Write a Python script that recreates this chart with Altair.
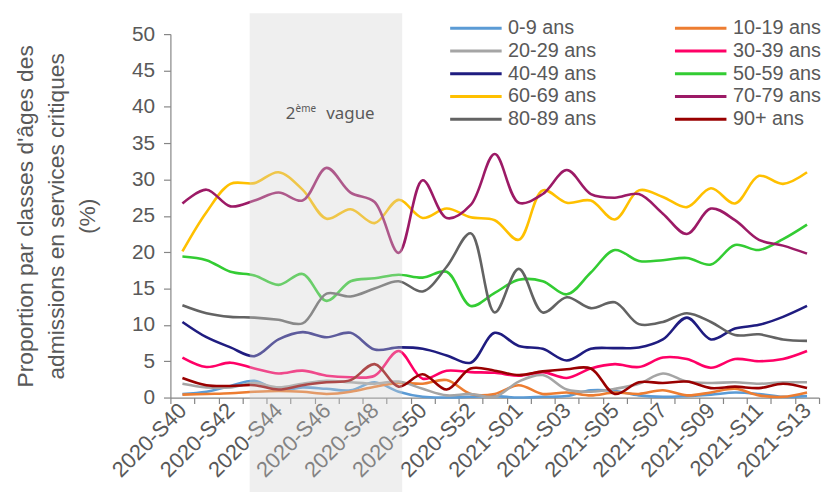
import altair as alt
import pandas as pd

weeks = ["2020-S40", "2020-S41", "2020-S42", "2020-S43", "2020-S44", "2020-S45", "2020-S46",
         "2020-S47", "2020-S48", "2020-S49", "2020-S50", "2020-S51", "2020-S52", "2020-S53",
         "2021-S01", "2021-S02", "2021-S03", "2021-S04", "2021-S05", "2021-S06", "2021-S07",
         "2021-S08", "2021-S09", "2021-S10", "2021-S11", "2021-S12", "2021-S13"]

series_names = ["0-9 ans", "10-19 ans", "20-29 ans", "30-39 ans", "40-49 ans",
                "50-59 ans", "60-69 ans", "70-79 ans", "80-89 ans", "90+ ans"]

a_0_9 = [0.5, 0.8, 1.6, 2.3, 1.0, 1.4, 1.2, 1.0, 2.1, 0.8, 0.1, 0.0, 0.1, 0.2,
         0.0, 0.1, 0.2, 1.0, 0.9, 0.3, 0.1, 0.2, 0.4, 0.7, 0.5, 0.1, 0.2]
a_10_19 = [0.4, 0.5, 0.6, 0.8, 0.9, 0.8, 0.5, 0.8, 1.5, 2.0, 1.9, 2.4, 0.5, 0.5,
           1.7, 0.5, 0.7, 0.3, 0.7, 0.5, 1.0, 0.3, 0.7, 1.2, 0.3, 0.1, 0.7]
a_20_29 = [1.9, 1.4, 1.4, 2.0, 1.4, 1.9, 2.3, 2.1, 1.9, 2.2, 1.2, 0.3, 0.5, 0.1,
           2.2, 3.1, 1.1, 0.8, 1.2, 1.9, 3.3, 2.2, 2.0, 2.1, 1.9, 2.1, 2.1]
a_30_39 = [5.5, 4.2, 4.8, 4.0, 3.3, 3.7, 3.0, 2.8, 3.0, 6.4, 2.6, 3.7, 3.5, 3.4,
           3.0, 3.5, 2.7, 4.0, 4.6, 4.2, 5.5, 5.3, 4.1, 5.3, 5.0, 5.3, 6.4]
a_40_49 = [10.4, 8.3, 6.9, 5.7, 8.0, 9.0, 8.3, 8.9, 6.6, 6.9, 6.7, 5.8, 4.8, 8.9,
           7.1, 6.7, 5.1, 6.7, 6.8, 6.9, 8.0, 11.0, 8.0, 9.5, 10.0, 11.1, 12.6]
a_50_59 = [19.4, 18.9, 17.3, 16.8, 15.5, 17.0, 13.3, 16.0, 16.4, 16.9, 16.5, 17.3, 12.6, 14.4,
           16.2, 16.0, 14.2, 17.2, 20.3, 18.8, 18.9, 19.2, 18.3, 21.0, 20.3, 21.8, 23.8]
a_60_69 = [20.1, 25.5, 29.4, 29.5, 31.0, 28.6, 24.6, 25.9, 24.0, 27.2, 24.7, 26.0, 24.8, 24.4,
           21.7, 28.5, 26.8, 27.1, 24.5, 28.5, 27.6, 26.2, 28.8, 26.7, 30.5, 29.4, 31.0]
a_70_79 = [26.7, 28.6, 26.3, 27.1, 28.2, 27.1, 31.6, 28.2, 26.9, 19.9, 29.9, 24.7, 26.5, 33.5,
           26.8, 28.0, 31.3, 28.0, 27.5, 28.0, 25.3, 22.5, 26.0, 24.4, 21.7, 20.9, 19.8]
a_80_89 = [12.7, 11.6, 11.1, 11.0, 10.7, 10.2, 14.3, 13.9, 15.0, 16.0, 14.6, 18.0, 22.6, 11.7,
           17.7, 11.7, 13.8, 12.3, 13.1, 10.1, 10.4, 11.6, 10.4, 8.6, 8.7, 8.0, 7.8]
a_90p = [2.7, 1.7, 1.6, 1.7, 1.1, 1.7, 2.1, 2.4, 4.6, 1.5, 3.2, 1.1, 4.0, 3.7,
         3.1, 3.6, 3.9, 4.0, 0.5, 2.1, 2.0, 2.2, 1.3, 1.5, 1.3, 1.9, 1.3]

all_series = [a_0_9, a_10_19, a_20_29, a_30_39, a_40_49, a_50_59, a_60_69, a_70_79, a_80_89, a_90p]
colors = ["#5b9bd5", "#ed7d31", "#a5a5a5", "#ff0066", "#1f1c80",
          "#33cc33", "#ffc000", "#9c1a66", "#636363", "#990000"]

y_ticks = [0, 5, 10, 15, 20, 25, 30, 35, 40, 45, 50]

band_start = [2.8]
band_end = [9.15]
band_text_x = [4.3]
band_text_y = [38.3]

rows = []
for name, vals in zip(series_names, all_series):
    for i, v in enumerate(vals):
        rows.append({"idx": i, "semaine": weeks[i], "classe": name, "valeur": v})
df = pd.DataFrame(rows)

W = 655
H = 367
n = len(weeks)
step = W / n
GRAY = "#595959"
AXC = "#868686"
FONT = "Liberation Sans"

tick_values = [i - 0.5 for i in range(n + 1)]
weeks_js = "[" + ",".join("'" + w + "'" for w in weeks) + "]"
label_expr = ("(datum.value + 0.5) % 2 == 0 && datum.value < " + str(n - 1) +
              " ? " + weeks_js + "[datum.value + 0.5] : ''")

x_scale = alt.Scale(domain=[-0.5, n - 0.5], nice=False, zero=False)
y_scale = alt.Scale(domain=[0, 50], nice=False, zero=True)

x_axis = alt.Axis(values=tick_values, labelExpr=label_expr, labelOffset=step / 2,
                  labelAngle=-45, labelAlign="right", labelBaseline="middle",
                  labelOverlap=False, labelFlush=False, labelBound=False,
                  labelFontSize=22, labelPadding=3, tickSize=6, grid=False, title=None)
y_axis = alt.Axis(values=y_ticks, tickCount=11, labelFontSize=21, tickSize=7,
                  labelPadding=9, grid=False, labelOverlap=False, labelFlush=False,
                  labelExpr="datum.value",
                  title=["Proportion par classes d'âges des",
                         "admissions en services critiques", "(%)"],
                  titleFontSize=23, titleLineHeight=31, titleFontWeight="normal",
                  titleX=-134, titleY=H / 2, titleAngle=270, titleBaseline="bottom",
                  titleAlign="center")

lines = alt.Chart(df).mark_line(strokeWidth=2.6, interpolate="catmull-rom").encode(
    x=alt.X("idx:Q", scale=x_scale, axis=x_axis),
    y=alt.Y("valeur:Q", scale=y_scale, axis=y_axis),
    color=alt.Color("classe:N", sort=series_names,
                    scale=alt.Scale(domain=series_names, range=colors),
                    legend=alt.Legend(orient="none", legendX=281, legendY=-16, columns=2,
                                      direction="horizontal",
                                      symbolType="stroke", symbolSize=2704,
                                      symbolStrokeWidth=3, labelFontSize=20,
                                      labelFont=FONT, labelColor=GRAY, labelOffset=5,
                                      clipHeight=20,
                                      columnPadding=78, rowPadding=3, title=None)),
)

band_df = pd.DataFrame({"start": band_start, "end": band_end})
band = alt.Chart(band_df).mark_rect(color="#d0d0d0", opacity=0.35).encode(
    x=alt.X("start:Q", scale=x_scale, axis=x_axis),
    x2="end:Q",
    y=alt.value(-21),
    y2=alt.value(H + 100),
)

txt_df = pd.DataFrame({"x": band_text_x, "y": band_text_y})
t_base = alt.Chart(txt_df).encode(x=alt.X("x:Q", scale=x_scale, axis=x_axis),
                                  y=alt.Y("y:Q", scale=y_scale, axis=y_axis))
t1 = t_base.mark_text(text="2", align="left", baseline="alphabetic", font="Noto Sans",
                      fontSize=17, color=GRAY)
t2 = t_base.mark_text(text="ème", align="left", baseline="alphabetic", font="Noto Sans",
                      fontSize=10, color=GRAY, dx=10, dy=-7)
t3 = t_base.mark_text(text="vague", align="left", baseline="alphabetic", font="Noto Sans",
                      fontSize=17, color=GRAY, dx=41)

chart = alt.layer(lines, band, t1, t2, t3).properties(
    width=W, height=H,
    padding={"left": 164, "top": 24, "right": 4, "bottom": 93},
    autosize=alt.AutoSizeParams(type="none"),
).configure_view(stroke=None).configure_axis(
    domainColor=AXC, tickColor=AXC, labelColor=GRAY, titleColor=GRAY,
    labelFont=FONT, titleFont=FONT, domainWidth=1.2, tickWidth=1.2,
)

chart.save("out.html", embed_options={"renderer": "svg", "actions": False})
